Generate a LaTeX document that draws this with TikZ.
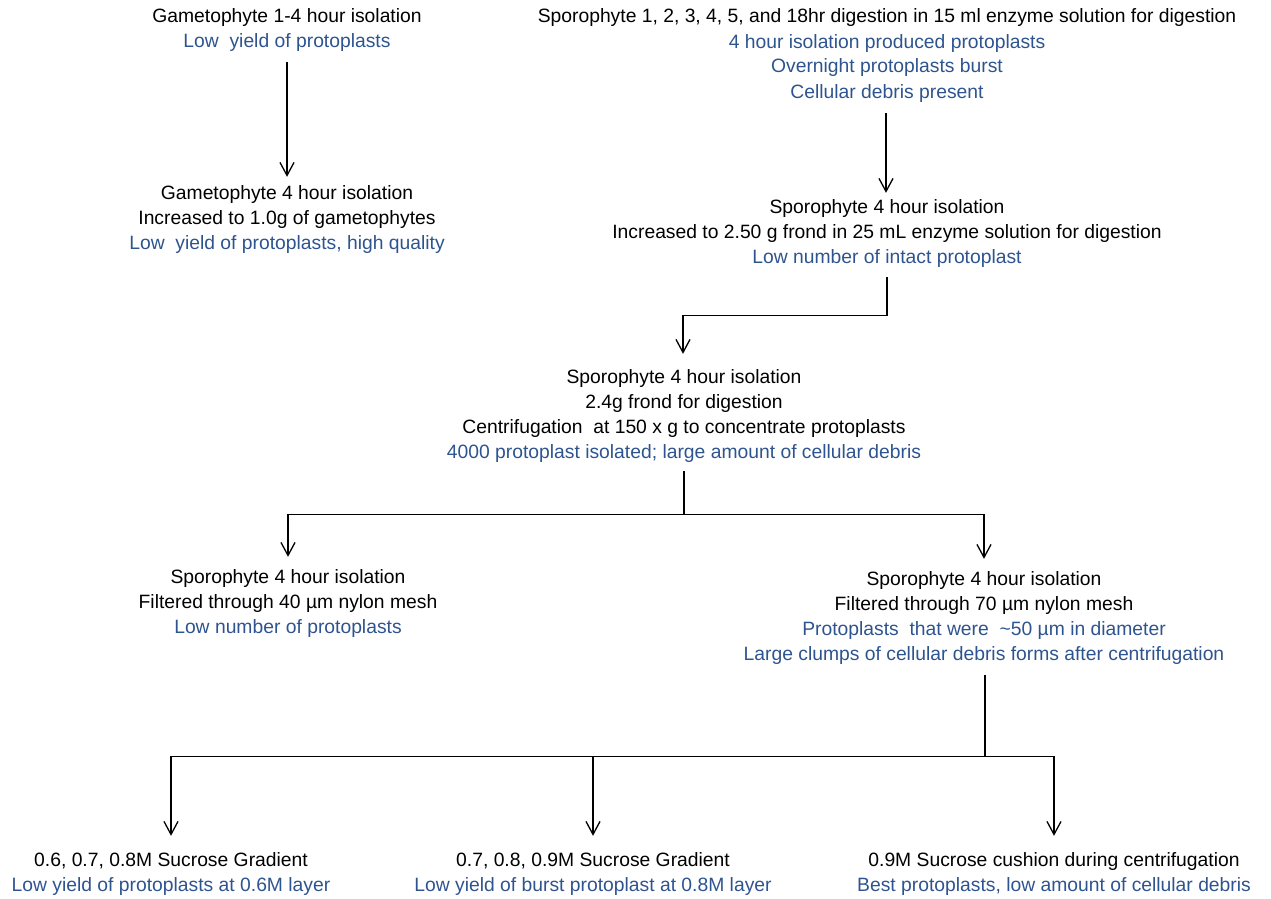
\documentclass[tikz,border=0pt]{standalone}
\usepackage{fontspec}
\setmainfont{Liberation Sans}
\usetikzlibrary{arrows.meta}
\definecolor{res}{RGB}{46,84,143}
\begin{document}
\begin{tikzpicture}[x=1pt,y=-1pt,
  blk/.style={align=center,inner sep=0pt,anchor=base,font=\fontsize{19.3}{25}\selectfont},
  conn/.style={line width=1.3pt},
  arr/.style={line width=1.3pt,-{Straight Barb[length=13pt,width=14pt,line width=1.3pt]}}]
\useasboundingbox (0,0) rectangle (1271,899);
% anchor base = baseline of the last line
\node[blk] (A) at (287,48) {Gametophyte 1-4 hour isolation\\\textcolor{res}{Low\ \ yield of protoplasts}};
\node[blk] (B) at (287,249) {Gametophyte 4 hour isolation\\Increased to 1.0g of gametophytes\\\textcolor{res}{Low\ \ yield of protoplasts, high quality}};
\node[blk] (C) at (887,98) {Sporophyte 1, 2, 3, 4, 5, and 18hr digestion in 15 ml enzyme solution for digestion\\\textcolor{res}{4 hour isolation produced protoplasts}\\\textcolor{res}{Overnight protoplasts burst}\\\textcolor{res}{Cellular debris present}};
\node[blk] (D) at (887,263) {Sporophyte 4 hour isolation\\Increased to 2.50 g frond in 25 mL enzyme solution for digestion\\\textcolor{res}{Low number of intact protoplast}};
\node[blk] (E) at (684,458) {Sporophyte 4 hour isolation\\2.4g frond for digestion\\Centrifugation\ \ at 150 x g to concentrate protoplasts\\\textcolor{res}{4000 protoplast isolated; large amount of cellular debris}};
\node[blk] (F) at (288,633) {Sporophyte 4 hour isolation\\Filtered through 40 µm nylon mesh\\\textcolor{res}{Low number of protoplasts}};
\node[blk] (G) at (984,660) {Sporophyte 4 hour isolation\\Filtered through 70 µm nylon mesh\\\textcolor{res}{Protoplasts\ \ that were\ \ \textasciitilde50 µm in diameter}\\\textcolor{res}{Large clumps of cellular debris forms after centrifugation}};
\node[blk] (H) at (171,891) {0.6, 0.7, 0.8M Sucrose Gradient\\\textcolor{res}{Low yield of protoplasts at 0.6M layer}};
\node[blk] (I) at (593,891) {0.7, 0.8, 0.9M Sucrose Gradient\\\textcolor{res}{Low yield of burst protoplast at 0.8M layer}};
\node[blk] (J) at (1054,891) {0.9M Sucrose cushion during centrifugation\\\textcolor{res}{Best protoplasts, low amount of cellular debris}};
\draw[arr] ([yshift=-10pt]A.south) -- ([yshift=8pt]B.north);
\draw[arr] ([xshift=-1pt,yshift=-11pt]C.south) -- ([xshift=-1pt,yshift=6pt]D.north);
\draw[arr] ([yshift=-10pt]D.south) |- ([yshift=53pt]E.north) -| ([xshift=-1pt,yshift=15pt]E.north);
\draw[conn] ([yshift=-9pt]E.south) -- ([yshift=-52pt]E.south) coordinate (ej);
\draw[arr] (ej) -| ([yshift=12pt]F.north);
\draw[arr] (ej) -| ([yshift=12pt]G.north);
\draw[conn] ([xshift=1pt,yshift=-11pt]G.south) -- ([xshift=1pt,yshift=-92pt]G.south) coordinate (gj);
\draw[arr] (gj) -| ([yshift=16pt]H.north);
\draw[arr] (gj) -| ([yshift=16pt]I.north);
\draw[arr] (gj) -| ([yshift=16pt]J.north);
\end{tikzpicture}
\end{document}
